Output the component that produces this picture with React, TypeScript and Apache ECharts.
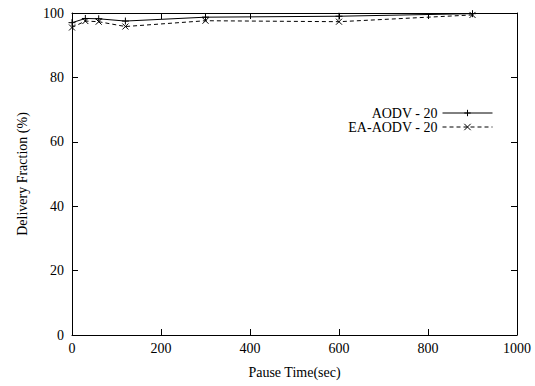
import React, { useEffect, useRef } from "react";
import * as echarts from "echarts";

const pauseTimes = [0, 30, 60, 120, 300, 600, 900];
const aodv = [97.0, 98.3, 98.2, 97.5, 98.7, 99.0, 99.8];
const eaAodv = [95.5, 97.5, 97.3, 95.8, 97.6, 97.3, 99.4];
const seriesNames = ["AODV - 20", "EA-AODV - 20"];

const FONT = "'Liberation Serif', 'Times New Roman', serif";
const FS = 14;
const plus = "path://M0,5 L10,5 M5,0 L5,10";
const cross = "path://M0,0 L10,10 M10,0 L0,10";

export default function App() {
  const ref = useRef<HTMLDivElement>(null);
  useEffect(() => {
    if (!ref.current) return;
    const chart = echarts.init(ref.current, null, { renderer: "svg" });
    const axisCommon = {
      axisLine: { show: true, onZero: false, lineStyle: { color: "#000", width: 1 } },
      axisTick: { show: true, inside: true, length: 6, lineStyle: { color: "#000", width: 1 } },
      splitLine: { show: false },
    };
    const textCommon = { fontFamily: FONT, fontSize: FS, color: "#000" };
    chart.setOption({
      animation: false,
      backgroundColor: "#fff",
      textStyle: { fontFamily: FONT },
      grid: { left: 72, right: 18, top: 13, bottom: 51, containLabel: false },
      legend: {
        orient: "vertical",
        right: 37,
        top: 101,
        align: "right",
        itemWidth: 50,
        itemHeight: 8,
        itemGap: 0,
        textStyle: textCommon,
        lineStyle: { width: 1 },
        itemStyle: { borderWidth: 1 },
        data: seriesNames,
      },
      xAxis: [
        {
          type: "value",
          min: 0,
          max: 1000,
          interval: 200,
          name: "Pause Time(sec)",
          nameLocation: "middle",
          nameGap: 30,
          nameTextStyle: textCommon,
          axisLabel: { ...textCommon, margin: 6, formatter: (v: number) => String(v) },
          ...axisCommon,
        },
        {
          type: "value",
          position: "top",
          min: 0,
          max: 1000,
          interval: 200,
          axisLabel: { show: false },
          ...axisCommon,
        },
      ],
      yAxis: [
        {
          type: "value",
          min: 0,
          max: 100,
          interval: 20,
          name: "Delivery Fraction (%)",
          nameLocation: "middle",
          nameGap: 43,
          nameTextStyle: textCommon,
          axisLabel: { ...textCommon, margin: 8 },
          ...axisCommon,
        },
        {
          type: "value",
          position: "right",
          min: 0,
          max: 100,
          interval: 20,
          axisLabel: { show: false },
          ...axisCommon,
        },
      ],
      series: [
        {
          name: seriesNames[0],
          type: "line",
          data: pauseTimes.map((x, i) => [x, aodv[i]]),
          symbol: plus,
          symbolSize: 7,
          lineStyle: { color: "#000", width: 1, type: "solid" },
          itemStyle: { color: "#000", borderColor: "#000", borderWidth: 1 },
        },
        {
          name: seriesNames[1],
          type: "line",
          data: pauseTimes.map((x, i) => [x, eaAodv[i]]),
          symbol: cross,
          symbolSize: 6,
          lineStyle: { color: "#000", width: 1, type: [4, 3] },
          itemStyle: { color: "#000", borderColor: "#000", borderWidth: 1 },
        },
      ],
    });
    return () => chart.dispose();
  }, []);
  return <div ref={ref} style={{ width: 535, height: 386, position: "absolute", left: 0, top: 0 }} />;
}
